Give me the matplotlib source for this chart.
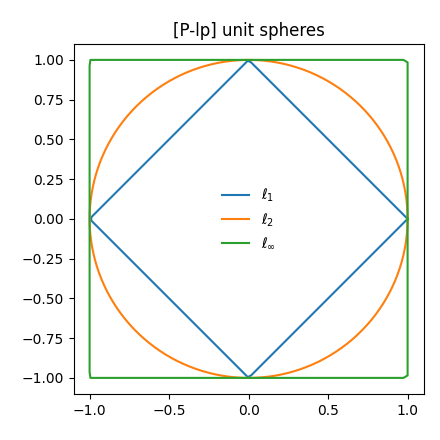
import matplotlib
matplotlib.use("Agg")
import matplotlib.pyplot as plt
import numpy as np

# norms to draw and their legend labels
p_values = [1, 2, np.inf]
labels = [r"$\ell_1$", r"$\ell_2$", r"$\ell_\infty$"]
n_points = 300

theta = np.linspace(0, 2 * np.pi, n_points)
directions = np.stack([np.cos(theta), np.sin(theta)])

fig, ax = plt.subplots(figsize=(4.4, 4.4), dpi=100)
for p, label in zip(p_values, labels):
    norms = np.linalg.norm(directions, ord=p, axis=0)
    pts = directions / norms
    ax.plot(pts[0], pts[1], label=label)

ax.set_aspect("equal")
ax.set_title("[P-lp] unit spheres")
ax.legend(loc="center", frameon=False)
fig.subplots_adjust(left=0.165, right=0.965, bottom=0.105, top=0.9)
fig.savefig("out.png")
